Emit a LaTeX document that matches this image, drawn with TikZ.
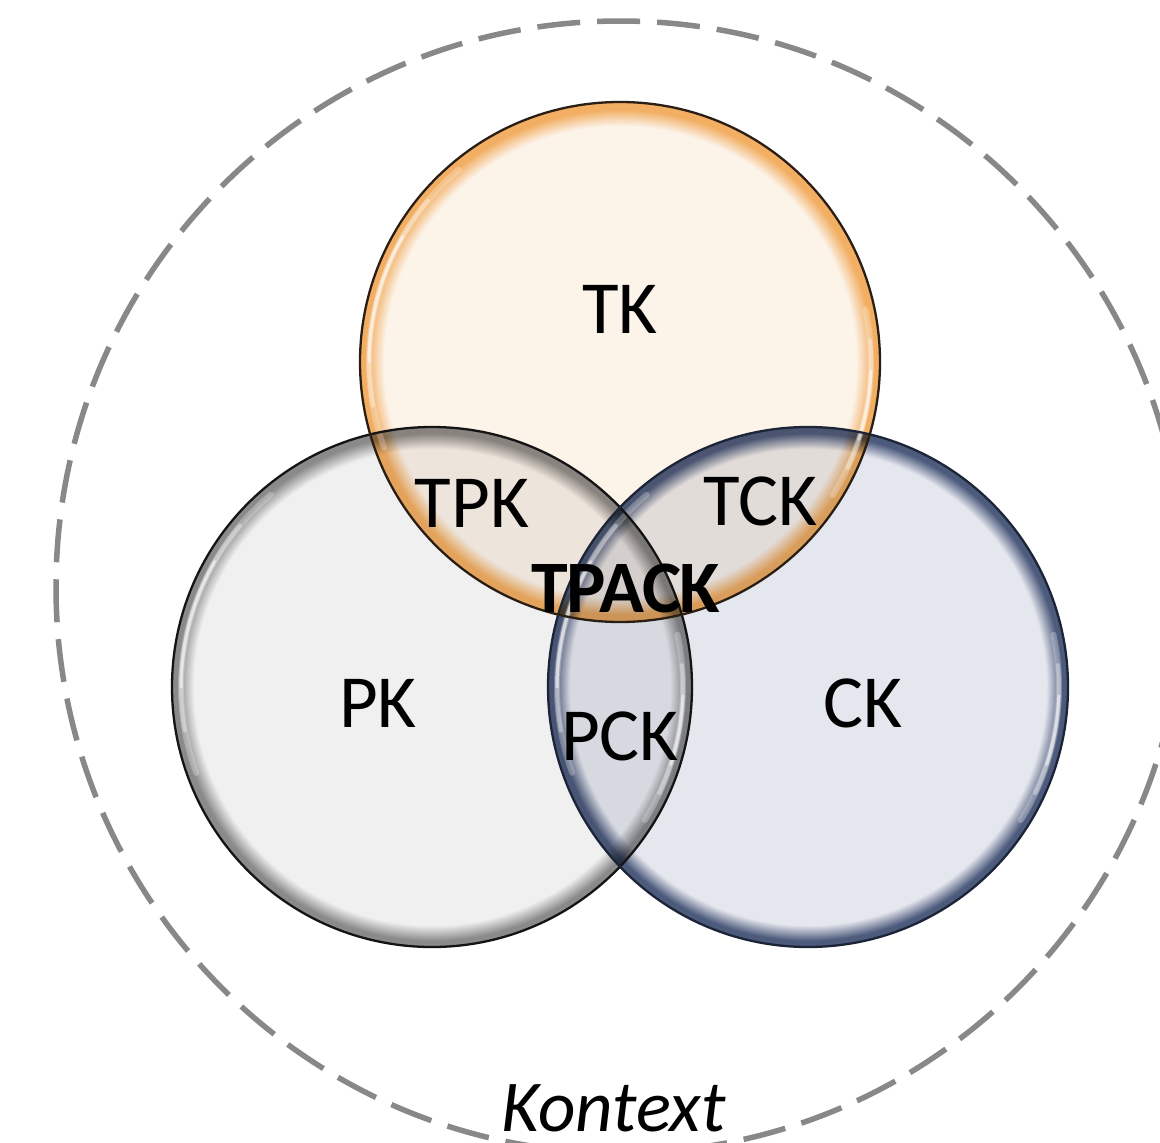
\documentclass[tikz,border=0pt]{standalone}
\usepackage{fontspec}
\setmainfont{Carlito}
\definecolor{tkfill}{HTML}{FCF3E9}
\definecolor{tkrim}{HTML}{F2AE62}
\definecolor{tkline}{HTML}{2A1E14}
\definecolor{pkfill}{HTML}{F0F0F0}
\definecolor{pkrim}{HTML}{8A8A8A}
\definecolor{pkline}{HTML}{141414}
\definecolor{ckfill}{HTML}{E5E7EE}
\definecolor{ckrim}{HTML}{4C5A7C}
\definecolor{ckline}{HTML}{1C2438}
\definecolor{ctxgray}{HTML}{888888}
\pgfdeclareradialshading{tkshade}{\pgfpoint{0bp}{0bp}}{color(0bp)=(tkfill); color(22.7bp)=(tkfill); color(24.3bp)=(tkrim); color(25bp)=(tkrim); color(50bp)=(tkrim)}
\pgfdeclareradialshading{pkshade}{\pgfpoint{0bp}{0bp}}{color(0bp)=(pkfill); color(22.9bp)=(pkfill); color(24.4bp)=(pkrim); color(25bp)=(pkrim); color(50bp)=(pkrim)}
\pgfdeclareradialshading{ckshade}{\pgfpoint{0bp}{0bp}}{color(0bp)=(ckfill); color(22.9bp)=(ckfill); color(24.4bp)=(ckrim); color(25bp)=(ckrim); color(50bp)=(ckrim)}
\tikzset{
  context/.style={draw=ctxgray, line width=5.5pt, dash pattern=on 43pt off 17pt},
  glint/.style={draw=white, line cap=round},
  rimline/.style={line width=2.3pt},
  lbl/.style={anchor=base, inner sep=0pt, font=\fontsize{75}{90}\selectfont},
  boldlbl/.style={anchor=base, inner sep=0pt, font=\fontsize{74}{88}\selectfont\bfseries\addfontfeature{LetterSpace=-2}},
  ctxlbl/.style={anchor=base, inner sep=0pt, font=\fontsize{73}{88}\selectfont\itshape}
}
\begin{document}
\begin{tikzpicture}[x=1pt,y=-1pt]
\useasboundingbox (0,0) rectangle (1160,1143);
\clip (0,0) rectangle (1160,1143);
\fill[white] (0,0) rectangle (1160,1143);
% context
\draw[context] (620,587) ellipse [x radius=564, y radius=566];
% circles
\coordinate (ctk) at (620,362);
\coordinate (cpk) at (432,687);
\coordinate (cck) at (808,687);
\begin{scope}[blend mode=multiply]
  \shade[shading=pkshade] (cpk) circle[radius=260];
  \shade[shading=ckshade] (cck) circle[radius=260];
  \shade[shading=tkshade] (ctk) circle[radius=260];
\end{scope}
% glossy highlights
\foreach \c in {ctk,cpk,cck} {
  \foreach \a/\b/\o/\w in {-130/-200/0.25/6, -140/-190/0.35/4, -150/-180/0.5/3, 32/-12/0.25/6, 25/-5/0.35/4, 18/2/0.5/3} {
    \draw[glint, line width=\w pt, opacity=\o] (\c) ++(\a:251) arc[start angle=\a, end angle=\b, radius=251];
  }
}
% outlines
\draw[rimline, pkline] (cpk) circle[radius=260];
\draw[rimline, ckline] (cck) circle[radius=260];
\draw[rimline, tkline] (ctk) circle[radius=260];
% labels
\node[lbl] (tk) at (620,333) {TK};
\node[lbl] (tpk) at (472,527) {TPK};
\node[lbl] (tck) at (760,525) {TCK};
\node[boldlbl] (tpack) at (626,612) {TPACK};
\node[lbl] (pk) at (378,727) {PK};
\node[lbl] (pck) at (620,760) {PCK};
\node[lbl] (ck) at (863,727) {CK};
\node[ctxlbl] (kontext) at (614,1131) {Kontext};
\end{tikzpicture}
\end{document}
